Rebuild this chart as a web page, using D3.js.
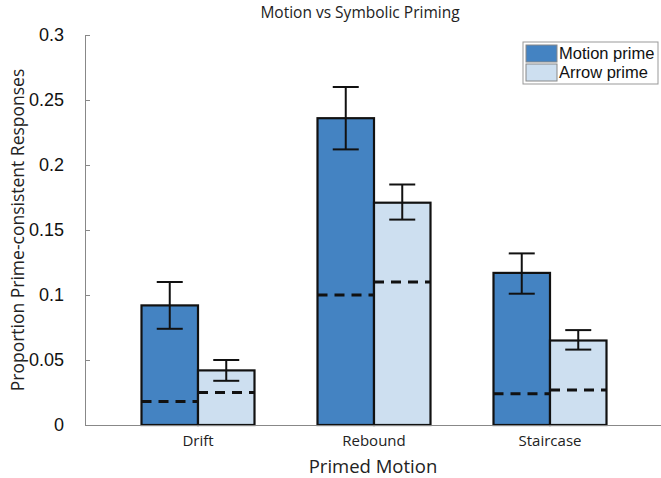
<!DOCTYPE html>
<html>
<head>
<meta charset="utf-8">
<script src="https://cdn.jsdelivr.net/npm/d3@7"></script>
<style>
  body { margin: 0; background: #fff; }
  .tick text { font-family: "Liberation Sans", Arial, sans-serif; }
</style>
</head>
<body>
<svg id="chart" width="661" height="478"></svg>
<script>
// data
var categories = ['Drift', 'Rebound', 'Staircase'];
var series = ['Motion prime', 'Arrow prime'];
var motionMean = [0.092, 0.236, 0.117];
var motionLow  = [0.074, 0.212, 0.101];
var motionHigh = [0.110, 0.260, 0.132];
var motionChance = [0.018, 0.100, 0.024];
var arrowMean = [0.042, 0.171, 0.065];
var arrowLow  = [0.034, 0.158, 0.058];
var arrowHigh = [0.050, 0.185, 0.073];
var arrowChance = [0.025, 0.110, 0.027];
var yTicks = [0, 0.05, 0.1, 0.15, 0.2, 0.25, 0.3];

var colors = ['#4483c2', '#cddff0'];

var svg = d3.select('#chart');
var area = { left: 85, right: 661, top: 35, bottom: 425 };

var y = d3.scaleLinear().domain([0, 0.3]).range([area.bottom, area.top]);

var x = d3.scaleBand().domain(categories).range([110, 638]).padding(0);
var xSub = d3.scaleBand().domain(series).range([-56.5, 56.5]).padding(0);

var rows = [];
categories.forEach(function(c, i) {
  rows.push({cat: c, s: series[0], mean: motionMean[i], lo: motionLow[i], hi: motionHigh[i], ch: motionChance[i]});
  rows.push({cat: c, s: series[1], mean: arrowMean[i], lo: arrowLow[i], hi: arrowHigh[i], ch: arrowChance[i]});
});
function cx(d) { return x(d.cat) + x.bandwidth() / 2 + xSub(d.s); }

var midX = (area.left + area.right) / 2;

// title
svg.append('text')
  .attr('x', 360).attr('y', 18)
  .attr('text-anchor', 'middle')
  .style('font-family', '"Open Sans", sans-serif')
  .style('font-size', '15.5px')
  .attr('fill', '#222')
  .text('Motion vs Symbolic Priming');

// y axis
var yAxis = d3.axisLeft(y)
  .tickValues(yTicks)
  .tickFormat(function(d) { return d3.format('~g')(d); })
  .tickSizeInner(-5)
  .tickSizeOuter(0)
  .tickPadding(21);

var gy = svg.append('g')
  .attr('transform', 'translate(' + area.left + ',0)')
  .call(yAxis);
gy.select('.domain').attr('stroke', '#888');
gy.selectAll('.tick line').attr('stroke', '#888');
gy.selectAll('.tick text')
  .style('font-size', '18px')
  .attr('fill', '#111');

// bars
svg.append('g').selectAll('rect')
  .data(rows)
  .enter().append('rect')
    .attr('x', cx)
    .attr('y', function(d) { return y(d.mean); })
    .attr('width', xSub.bandwidth())
    .attr('height', function(d) { return y(0) - y(d.mean); })
    .attr('fill', function(d) { return colors[series.indexOf(d.s)]; })
    .attr('stroke', '#111')
    .attr('stroke-width', 2.2);

// chance level dashes
svg.append('g').selectAll('line')
  .data(rows)
  .enter().append('line')
    .attr('x1', cx)
    .attr('x2', function(d) { return cx(d) + xSub.bandwidth(); })
    .attr('y1', function(d) { return y(d.ch); })
    .attr('y2', function(d) { return y(d.ch); })
    .attr('stroke', '#111')
    .attr('stroke-width', 3)
    .attr('stroke-dasharray', '10,7');

// error bars
var eb = svg.append('g').selectAll('g')
  .data(rows)
  .enter().append('g')
    .attr('stroke', '#111')
    .attr('stroke-width', 2);
eb.append('line')
  .attr('x1', function(d) { return cx(d) + xSub.bandwidth() / 2; })
  .attr('x2', function(d) { return cx(d) + xSub.bandwidth() / 2; })
  .attr('y1', function(d) { return y(d.lo); })
  .attr('y2', function(d) { return y(d.hi); });
[ 'lo', 'hi' ].forEach(function(k) {
  eb.append('line')
    .attr('x1', function(d) { return cx(d) + xSub.bandwidth() / 2 - 13; })
    .attr('x2', function(d) { return cx(d) + xSub.bandwidth() / 2 + 13; })
    .attr('y1', function(d) { return y(d[k]); })
    .attr('y2', function(d) { return y(d[k]); });
});

// x axis line + labels
svg.append('line')
  .attr('x1', area.left).attr('x2', area.right)
  .attr('y1', area.bottom + 0.5).attr('y2', area.bottom + 0.5)
  .attr('stroke', '#888').attr('stroke-width', 1.2);

svg.append('g').selectAll('text')
  .data(categories)
  .enter().append('text')
    .attr('x', function(d) { return x(d) + x.bandwidth() / 2; })
    .attr('y', 446)
    .attr('text-anchor', 'middle')
    .style('font-family', '"Open Sans", sans-serif')
    .style('font-size', '15px')
    .attr('fill', '#222')
    .text(function(d) { return d; });

svg.append('text')
  .attr('x', midX).attr('y', 473)
  .attr('text-anchor', 'middle')
  .style('font-family', '"Open Sans", sans-serif')
  .style('font-size', '18.5px')
  .attr('fill', '#222')
  .text('Primed Motion');

svg.append('text')
  .attr('transform', 'translate(24,' + ((area.top + area.bottom) / 2) + ') rotate(-90)')
  .attr('text-anchor', 'middle')
  .style('font-family', '"Open Sans", sans-serif')
  .style('font-size', '17.5px')
  .attr('fill', '#222')
  .text('Proportion Prime-consistent Responses');

// legend
var legend = svg.append('g').attr('transform', 'translate(523,42)');
legend.append('rect')
  .attr('width', 135).attr('height', 42)
  .attr('fill', '#fff')
  .attr('stroke', '#999');
series.forEach(function(s, i) {
  legend.append('rect')
    .attr('x', 3).attr('y', 3 + i * 19)
    .attr('width', 31).attr('height', 17)
    .attr('fill', colors[i])
    .attr('stroke', '#888');
  legend.append('text')
    .attr('x', 36).attr('y', 17 + i * 19)
    .style('font-family', '"Liberation Sans", Arial, sans-serif')
    .style('font-size', '16.5px')
    .attr('fill', '#111')
    .text(s);
});
</script>
</body>
</html>
